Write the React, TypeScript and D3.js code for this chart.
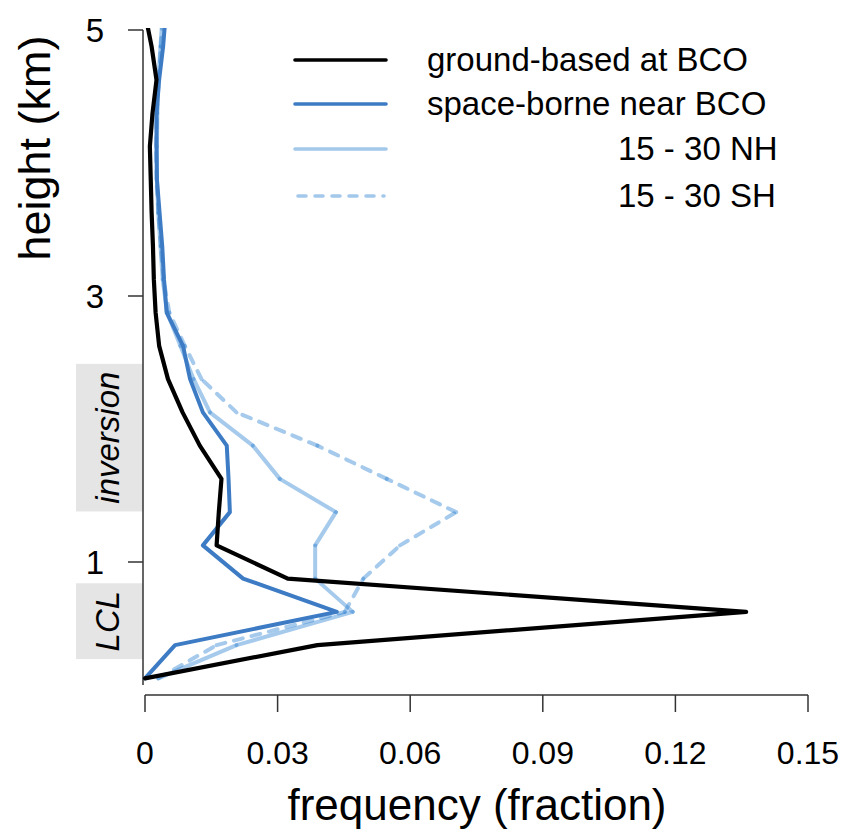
import React from "react";
import * as d3 from "d3";

const heights = [0.125, 0.375, 0.625, 0.875, 1.125, 1.375, 1.625, 1.875, 2.125, 2.375, 2.625, 2.875, 3.125, 3.375, 3.625, 3.875, 4.125, 4.375, 4.625, 4.875, 5.125];
const groundBased = [0, 0.039, 0.136, 0.0323, 0.0162, 0.0167, 0.0173, 0.0124, 0.0085, 0.0052, 0.0032, 0.0024, 0.002, 0.0018, 0.0015, 0.0013, 0.0011, 0.0017, 0.0026, 0.0015, 0.0];
const spaceBorne = [0, 0.0068, 0.0434, 0.0222, 0.0131, 0.0192, 0.0189, 0.0185, 0.0131, 0.0102, 0.0086, 0.0049, 0.0043, 0.0039, 0.0033, 0.0027, 0.0026, 0.0026, 0.0032, 0.0041, 0.0047];
const nh1530 = [0.003, 0.0207, 0.047, 0.0385, 0.0385, 0.0432, 0.0305, 0.0244, 0.0147, 0.011, 0.008, 0.005, 0.004, 0.0035, 0.003, 0.0027, 0.0027, 0.0028, 0.003, 0.0035, 0.004];
const sh1530 = [0.003, 0.0162, 0.0452, 0.0494, 0.0577, 0.0704, 0.0547, 0.039, 0.0207, 0.0128, 0.009, 0.0055, 0.0042, 0.0036, 0.003, 0.0026, 0.0025, 0.0027, 0.0031, 0.0036, 0.004];

const xTicks = [0, 0.03, 0.06, 0.09, 0.12, 0.15];
const xTickLabels = ["0", "0.03", "0.06", "0.09", "0.12", "0.15"];
const yTicks = [1, 3, 5];
const legendLabels = ["ground-based at BCO", "space-borne near BCO", "15 - 30 NH", "15 - 30 SH"];
const bands = [
  { label: "inversion", lo: 1.38, hi: 2.49 },
  { label: "LCL", lo: 0.27, hi: 0.84 },
];

const FONT = "'Liberation Sans', Arial, Helvetica, sans-serif";
const DARK = "#3d7cc4";
const LIGHT_A = "rgba(20,115,205,0.38)";
const LIGHT = "#a3c8ea";

export default function App() {
  const x = d3.scaleLinear().domain([0, 0.15]).range([145, 808]);
  const y = d3.scaleLinear().domain([0, 5]).range([695, 30]);
  const line = (vals: number[]) =>
    d3.line<number>().x((v) => x(v)).y((_, i) => y(heights[i]))(vals) || "";
  const segs = (vals: number[]) =>
    d3.pairs(vals.map((v, i) => [x(v), y(heights[i])] as [number, number]));

  const lightSeries = [
    { vals: sh1530, dash: "9 9" },
    { vals: nh1530, dash: undefined },
  ];
  const solidSeries = [
    { vals: spaceBorne, color: DARK, width: 4 },
    { vals: groundBased, color: "#000", width: 4.2 },
  ];
  const legendSeries = [
    { color: "#000", dash: undefined, tx: 427 },
    { color: DARK, dash: undefined, tx: 427 },
    { color: LIGHT, dash: undefined, tx: 618 },
    { color: LIGHT, dash: "8 9", tx: 618 },
  ];
  const legendY = [60, 104, 149, 196];

  return (
    <svg width={846} height={835} style={{ position: "absolute", left: 0, top: 0, background: "#fff" }} fontFamily={FONT}>
      <defs>
        <clipPath id="plotclip">
          <rect x={140} y={28} width={700} height={670} />
        </clipPath>
      </defs>
      {bands.map((b) => (
        <g key={b.label}>
          <rect x={76} y={y(b.hi)} width={67} height={y(b.lo) - y(b.hi)} fill="#e5e5e5" />
          <text
            transform={`translate(119,${(y(b.hi) + y(b.lo)) / 2}) rotate(-90)`}
            textAnchor="middle"
            fontSize={33}
            fontStyle="italic"
            fill="#000"
          >
            {b.label}
          </text>
        </g>
      ))}
      {/* y axis */}
      <line x1={143} x2={143} y1={y(5)} y2={685} stroke="#333" strokeWidth={1.5} />
      {yTicks.map((t) => (
        <g key={t}>
          <line x1={128} x2={143} y1={y(t)} y2={y(t)} stroke="#333" strokeWidth={1.5} />
          <text x={104} y={y(t) + 12} textAnchor="end" fontSize={33} fill="#000">
            {t}
          </text>
        </g>
      ))}
      {/* x axis */}
      <line x1={x(0)} x2={x(0.15)} y1={695} y2={695} stroke="#333" strokeWidth={1.5} />
      {xTicks.map((t, i) => (
        <g key={t}>
          <line x1={x(t)} x2={x(t)} y1={695} y2={712} stroke="#333" strokeWidth={1.5} />
          <text x={x(t)} y={764} textAnchor="middle" fontSize={32} fill="#000">
            {xTickLabels[i]}
          </text>
        </g>
      ))}
      <text x={477} y={820} textAnchor="middle" fontSize={44} fill="#000">
        frequency (fraction)
      </text>
      <text transform="translate(50,148) rotate(-90)" textAnchor="middle" fontSize={45} fill="#000">
        height (km)
      </text>
      <g clipPath="url(#plotclip)">
        {lightSeries.map((s, i) => (
          <g key={i}>
            {segs(s.vals).map(([a, b], j) => (
              <line
                key={j}
                x1={a[0]}
                y1={a[1]}
                x2={b[0]}
                y2={b[1]}
                stroke={LIGHT_A}
                strokeWidth={4}
                strokeDasharray={s.dash}
                strokeLinecap="round"
              />
            ))}
          </g>
        ))}
        {solidSeries.map((s, i) => (
          <path
            key={i}
            d={line(s.vals)}
            fill="none"
            stroke={s.color}
            strokeWidth={s.width}
            strokeLinejoin="round"
            strokeLinecap="round"
          />
        ))}
      </g>
      {legendLabels.map((l, i) => (
        <g key={l}>
          <line
            x1={legendSeries[i].dash ? 298 : 295}
            x2={legendSeries[i].dash ? 384 : 386}
            y1={legendY[i]}
            y2={legendY[i]}
            stroke={legendSeries[i].color}
            strokeWidth={3.6}
            strokeDasharray={legendSeries[i].dash}
            strokeLinecap="round"
          />
          <text x={legendSeries[i].tx} y={legendY[i] + 11} fontSize={33} fill="#000">
            {l}
          </text>
        </g>
      ))}
    </svg>
  );
}
